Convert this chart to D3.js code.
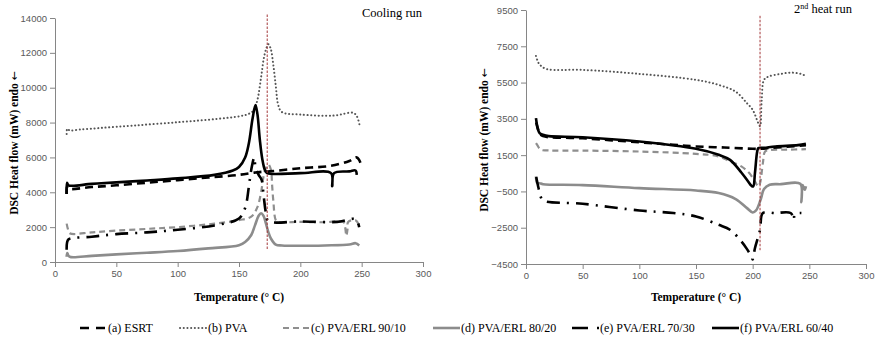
<!DOCTYPE html>
<html>
<head>
<meta charset="utf-8">
<script src="https://cdn.jsdelivr.net/npm/d3@7"></script>
<style>
  body { margin: 0; background: #fff; }
  svg { display: block; }
  .tick text { font-family: "Liberation Sans", Arial, sans-serif; font-size: 9.5px; fill: #595959; }
  .domain, .tick line { stroke: #868686; }
  .serif { font-family: "Liberation Serif", "Times New Roman", serif; fill: #000; }
</style>
</head>
<body>
<svg id="chart" width="877" height="337"></svg>
<script>
// Cooling run, [temperature, heat flow]
const coolESRT = [[9.5,3900],[9.8,4300],[11,4200],[30,4300],[50,4400],[75,4550],[100,4700],[125,4850],[150,5000],[165,5150],[175,5200],[200,5380],[225,5520],[240,5800],[246,6000],[249,5700]];
const coolPVA = [[9.5,7350],[10,7650],[12,7550],[20,7600],[37,7690],[64,7830],[100,8020],[132,8210],[151,8370],[158,8500],[162,8700],[165,9300],[168,10600],[170,11600],[172,12200],[174,12500],[176,12200],[178,11300],[180,10100],[182,9000],[185,8600],[200,8460],[227,8400],[243,8560],[246,8370],[248.5,7800]];
const cool9010 = [[9.5,2200],[10.5,1900],[12,1650],[30,1700],[50,1800],[75,1900],[100,2000],[130,2200],[150,2400],[160,2600],[165,3150],[168,4000],[170,4900],[172,5400],[174,5600],[176,5300],[177,4400],[178,3500],[180,2400],[182,2300],[200,2300],[220,2280],[235,2300],[236.5,2000],[237.5,1500],[238.5,1900],[239,2300],[245,2400],[248,2100]];
const cool8020 = [[9.5,300],[10,520],[11,350],[13,280],[30,350],[50,440],[75,530],[100,630],[125,780],[150,960],[155,1150],[160,1550],[163,2100],[166,2650],[168,2800],[170,2650],[172,2200],[174,1700],[176,1350],[180,1000],[185,950],[200,930],[220,950],[240,1000],[245,1080],[248,950]];
const cool7030 = [[9.5,700],[9.8,1100],[11,1300],[30,1450],[50,1600],[75,1700],[100,1850],[130,2100],[150,2500],[155,3100],[158,4300],[160,5300],[162.5,6000],[163.5,5400],[166,5000],[168.5,4700],[170,3850],[172,2800],[174,2350],[200,2330],[230,2300],[245,2450],[248,2000]];
const cool6040 = [[9.5,3900],[9.8,4550],[11,4400],[30,4480],[50,4570],[75,4680],[100,4800],[130,5000],[145,5250],[150,5450],[155,6000],[158,6800],[161,8200],[163.4,9000],[165,8500],[167,7000],[169,5900],[171,5300],[173,5100],[200,5100],[225,5100],[226,4350],[227.5,5100],[240,5200],[245,5250],[246,5000]];

// 2nd heat run, [temperature, heat flow]
const heatESRT = [[9,3300],[12,2700],[15,2550],[50,2430],[100,2210],[130,2070],[150,1980],[175,1920],[200,1850],[207,1850],[215,1900],[230,1960],[247,2050]];
const heatPVA = [[8.8,6970],[10.5,6650],[12.4,6470],[18,6250],[50,6200],[100,5980],[150,5650],[170,5370],[185,5000],[195,4360],[200,4000],[205,3260],[206.5,3100],[208,4550],[210,5650],[214,5830],[225,5980],[235,6050],[245,5920],[247,5800]];
const heat9010 = [[8.8,2160],[10,2050],[13,1800],[20,1760],[50,1750],[100,1700],[150,1570],[170,1430],[180,1150],[190,880],[197,510],[202,50],[205,-225],[206.5,-40],[209,1060],[211,1700],[215,1780],[230,1800],[247,1830]];
const heat8020 = [[8.8,330],[10,-40],[12,-50],[15,-100],[50,-150],[100,-320],[150,-450],[170,-590],[185,-920],[195,-1420],[200,-1660],[203,-1550],[207,-960],[210,-370],[215,-130],[225,-100],[242,-80],[243,-1100],[244,-150],[245,-300],[246,-410],[247,-220]];
const heat7030 = [[9,300],[11,-300],[13,-800],[15,-1000],[50,-1180],[100,-1550],[130,-1690],[150,-1880],[170,-2340],[180,-2610],[190,-3250],[195,-3680],[199,-4100],[200,-4250],[202,-3630],[206.5,-2620],[209,-1690],[220,-1690],[233.5,-1690],[236.5,-2070],[237,-1750],[243,-1690]];
const heat6040 = [[8.8,3540],[10,3080],[12,2710],[15,2620],[20,2550],[50,2490],[100,2250],[150,1850],[170,1520],[180,1240],[190,545],[196,50],[199,-190],[200.5,-225],[202,510],[204,1700],[205,1885],[210,1900],[220,1980],[240,2050],[247,2120]];

const seriesNames = ["(a) ESRT", "(b) PVA", "(c) PVA/ERL 90/10", "(d) PVA/ERL 80/20", "(e) PVA/ERL 70/30", "(f) PVA/ERL 60/40"];
const xTicks = [0, 50, 100, 150, 200, 250, 300];
const coolTicks = [0, 2000, 4000, 6000, 8000, 10000, 12000, 14000];
const heatTicks = [-4500, -2500, -500, 1500, 3500, 5500, 7500, 9500];
const coolMarker = [173, 14200, 700];
const heatMarker = [206.5, 9180, -3740];

// line looks, same order as seriesNames
const looks = [
  { color: "#000", width: 2.6, dash: "8,5", cap: "butt" },
  { color: "#555", width: 2, dash: "0.1,3.6", cap: "round" },
  { color: "#8f8f8f", width: 2.2, dash: "6,4", cap: "butt" },
  { color: "#8c8c8c", width: 2.6, dash: null, cap: "butt" },
  { color: "#000", width: 2.6, dash: "13,7,2,7", cap: "butt" },
  { color: "#000", width: 2.6, dash: null, cap: "butt" }
];

const svg = d3.select("#chart");

function panel(cfg) {
  const x = d3.scaleLinear().domain([0, 300]).range(cfg.xr);
  const y = d3.scaleLinear().domain(cfg.yd).range(cfg.yr);

  svg.append("g")
    .attr("transform", `translate(0,${cfg.yr[0]})`)
    .call(d3.axisBottom(x).tickValues(xTicks).tickFormat(d3.format("d")).tickSize(5).tickPadding(3).tickSizeOuter(0));

  svg.append("g")
    .attr("transform", `translate(${cfg.xr[0]},0)`)
    .call(d3.axisLeft(y).tickValues(cfg.ticks).tickFormat(d3.format("d")).tickSize(5).tickPadding(3).tickSizeOuter(0));

  const line = d3.line()
    .x(d => x(d[0]))
    .y(d => y(d[1]))
    .curve(d3.curveCatmullRom.alpha(0.5));

  // draw order: grey ones under the black ones
  [1, 3, 2, 0, 4, 5].forEach(i => {
    const s = looks[i];
    svg.append("path")
      .datum(cfg.data[i])
      .attr("d", line)
      .attr("fill", "none")
      .attr("stroke", s.color)
      .attr("stroke-width", s.width)
      .attr("stroke-linecap", s.cap)
      .attr("stroke-dasharray", s.dash);
  });

  // red reference line
  svg.append("line")
    .attr("x1", x(cfg.marker[0])).attr("x2", x(cfg.marker[0]))
    .attr("y1", y(cfg.marker[1])).attr("y2", y(cfg.marker[2]))
    .attr("stroke", "#a4393a")
    .attr("stroke-width", 1)
    .attr("stroke-dasharray", "2.5,1.5");

  const mid = (cfg.xr[0] + cfg.xr[1]) / 2;
  svg.append("text")
    .attr("class", "serif")
    .attr("x", mid).attr("y", 301)
    .attr("text-anchor", "middle")
    .style("font-weight", "bold").style("font-size", "11.5px")
    .text("Temperature (° C)");

  const yt = svg.append("text")
    .attr("class", "serif")
    .attr("transform", `translate(${cfg.ylabX},${cfg.ylabY}) rotate(-90)`)
    .attr("text-anchor", "middle")
    .attr("dy", "0.35em")
    .style("font-weight", "bold").style("font-size", "11.5px");
  yt.append("tspan").text("DSC Heat flow (mW) endo ");
  yt.append("tspan").style("font-family", "DejaVu Sans").style("font-weight", "normal").style("font-size", "11px").text("←");
}

panel({
  xr: [55, 423], yr: [262, 18], yd: [0, 14000], ticks: coolTicks,
  data: [coolESRT, coolPVA, cool9010, cool8020, cool7030, cool6040],
  marker: coolMarker, ylabX: 14, ylabY: 143
});

panel({
  xr: [526, 866], yr: [264, 10], yd: [-4500, 9500], ticks: heatTicks,
  data: [heatESRT, heatPVA, heat9010, heat8020, heat7030, heat6040],
  marker: heatMarker, ylabX: 484, ylabY: 140
});

// run titles
svg.append("text").attr("class", "serif")
  .attr("x", 362).attr("y", 17)
  .style("font-size", "12.5px")
  .text("Cooling run");

const t2 = svg.append("text").attr("class", "serif")
  .attr("x", 794).attr("y", 13)
  .style("font-size", "12.5px");
t2.append("tspan").text("2");
t2.append("tspan").attr("dy", -4).style("font-size", "8px").text("nd");
t2.append("tspan").attr("dy", 4).text(" heat run");

// legend
const legX = [80, 180, 283, 433, 572, 712];
const legend = svg.append("g");
seriesNames.forEach((name, i) => {
  const s = looks[i];
  const x0 = legX[i];
  let dash = s.dash;
  if (i === 0) dash = "9,7";
  if (i === 4) dash = "16,9,2,20";
  legend.append("line")
    .attr("x1", x0).attr("x2", x0 + 27)
    .attr("y1", 328).attr("y2", 328)
    .attr("stroke", s.color)
    .attr("stroke-width", s.width)
    .attr("stroke-linecap", s.cap)
    .attr("stroke-dasharray", dash);
  legend.append("text").attr("class", "serif")
    .attr("x", x0 + 28).attr("y", 328)
    .attr("dy", "0.35em")
    .style("font-size", "12px")
    .text(name);
});
</script>
</body>
</html>
